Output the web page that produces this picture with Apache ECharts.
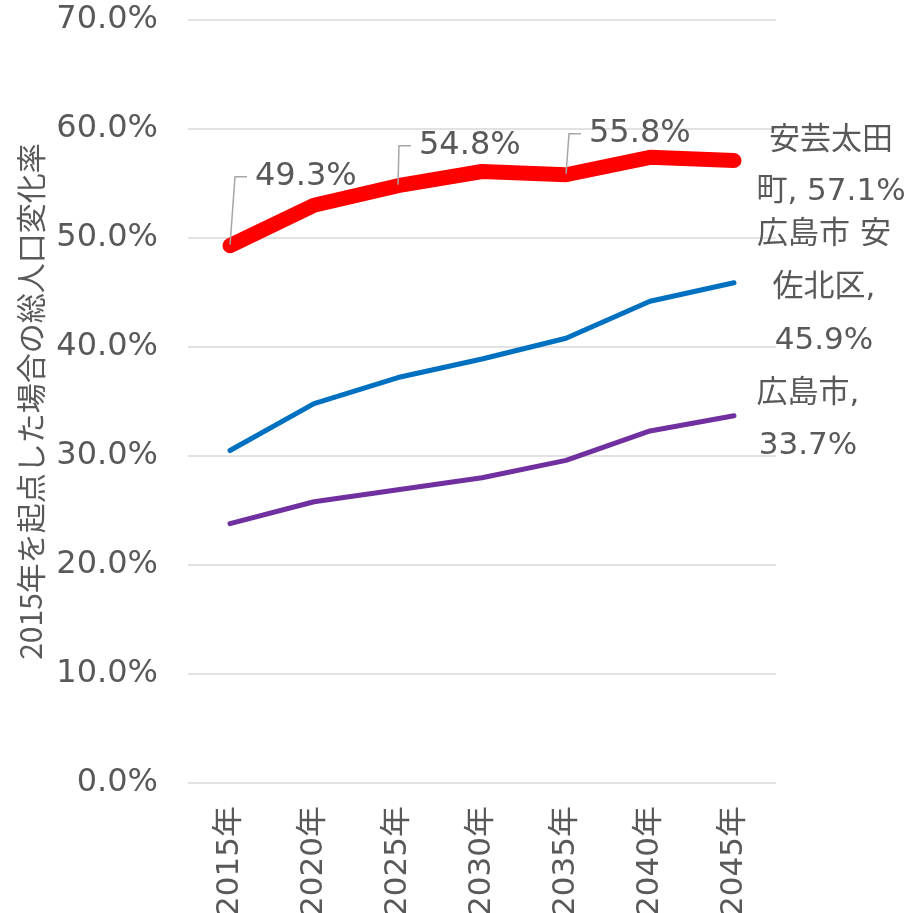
<!DOCTYPE html>
<html>
<head>
<meta charset="utf-8">
<script src="https://cdn.jsdelivr.net/npm/echarts@6/dist/echarts.min.js"></script>
<style>
  html, body { margin: 0; padding: 0; background: #fff; }
  #chart { width: 922px; height: 913px; }
</style>
</head>
<body>
<div id="chart"></div>
<script>
  const years = ['2015年', '2020年', '2025年', '2030年', '2035年', '2040年', '2045年'];
  const akiotaName = '安芸太田町';
  const akiota = [49.3, 53.0, 54.8, 56.1, 55.8, 57.4, 57.1];
  const asakitaName = '広島市 安佐北区';
  const asakita = [30.5, 34.8, 37.2, 38.9, 40.8, 44.2, 45.9];
  const hiroshimaName = '広島市';
  const hiroshima = [23.8, 25.8, 26.9, 28.0, 29.6, 32.3, 33.7];
  const yTicks = [0, 10, 20, 30, 40, 50, 60, 70];

  const textColor = '#595959';
  const font = '"DejaVu Sans", "Noto Sans CJK JP", sans-serif';
  const pct = v => `${v.toFixed(1)}%`;

  // labels on the thick red line, pulled up with a leader line
  const redLabelIdx = [0, 2, 4];
  const redShift = {0: [16, -69], 2: [12, -40], 4: [14, -41]};

  // end-of-line labels (series name + last value)
  const endLabel = (text, dx, dy, lh) => ({
    show: true,
    position: [dx, dy],
    align: 'center',
    verticalAlign: 'middle',
    lineHeight: lh,
    fontSize: 31,
    fontFamily: font,
    color: textColor,
    formatter: text
  });

  const echart = echarts.init(document.getElementById('chart'));
  echart.setOption({
    animation: false,
    grid: {left: 188, right: 146, top: 20, bottom: 130, outerBoundsMode: 'none'},
    xAxis: {
      type: 'category',
      data: years,
      boundaryGap: true,
      axisLine: {show: false},
      axisTick: {show: false},
      axisLabel: {
        rotate: 90,
        margin: 23,
        fontSize: 31,
        fontFamily: font,
        color: textColor
      }
    },
    yAxis: {
      type: 'value',
      min: yTicks[0],
      max: yTicks[yTicks.length - 1],
      interval: 10,
      name: '2015年を起点した場合の総人口変化率',
      nameLocation: 'middle',
      nameRotate: 90,
      nameGap: 141,
      nameTextStyle: {fontSize: 30, fontFamily: '"Noto Sans CJK JP", sans-serif', color: textColor},
      axisLine: {show: false},
      axisTick: {show: false},
      axisLabel: {
        margin: 30,
        fontSize: 32,
        fontFamily: font,
        color: textColor,
        formatter: v => pct(v)
      },
      splitLine: {lineStyle: {color: '#d9d9d9', width: 1.5}}
    },
    series: [
      {
        name: akiotaName,
        type: 'line',
        z: 3,
        symbol: 'circle',
        symbolSize: 2,
        itemStyle: {color: '#ff0000'},
        lineStyle: {color: '#ff0000', width: 15, cap: 'round', join: 'round'},
        data: akiota.map((v, i) => {
          if (i === akiota.length - 1)
            return {value: v, label: endLabel(`安芸太田\n町, ${pct(v)}`, 98, 7, 51)};
          if (redLabelIdx.includes(i))
            return {
              value: v,
              label: {
                show: true,
                position: 'right',
                distance: 0,
                padding: [0, 0, 0, 8],
                backgroundColor: 'rgba(255,255,255,0)',
                fontSize: 32,
                fontFamily: font,
                color: textColor,
                formatter: pct(v)
              },
              labelLine: {show: true, length2: 12, lineStyle: {color: '#a6a6a6', width: 1.5}}
            };
          return {value: v};
        }),
        labelLayout: params => {
          const s = redShift[params.dataIndex];
          return s ? {dx: s[0], dy: s[1]} : {};
        }
      },
      {
        name: asakitaName,
        type: 'line',
        z: 2,
        symbol: 'circle',
        symbolSize: 2,
        itemStyle: {color: '#0070c0'},
        lineStyle: {color: '#0070c0', width: 5, cap: 'round', join: 'round'},
        data: asakita.map((v, i) => i === asakita.length - 1
          ? {value: v, label: endLabel(`広島市 安\n佐北区,\n${pct(v)}`, 91, 6, 53)}
          : {value: v})
      },
      {
        name: hiroshimaName,
        type: 'line',
        z: 2,
        symbol: 'circle',
        symbolSize: 2,
        itemStyle: {color: '#7030a0'},
        lineStyle: {color: '#7030a0', width: 5, cap: 'round', join: 'round'},
        data: hiroshima.map((v, i) => i === hiroshima.length - 1
          ? {value: v, label: endLabel(`広島市,\n${pct(v)}`, 75, 5, 52)}
          : {value: v})
      }
    ]
  });
</script>
</body>
</html>
